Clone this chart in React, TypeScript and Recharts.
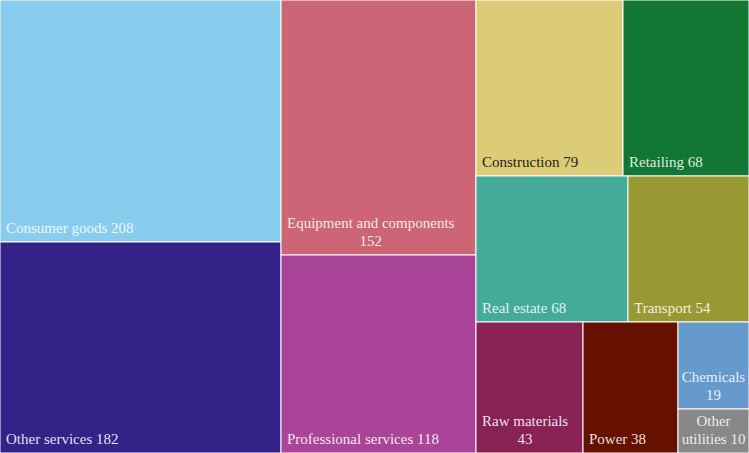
import { Treemap } from 'recharts';

const sectors = [
  'Consumer goods',
  'Other services',
  'Equipment and components',
  'Professional services',
  'Construction',
  'Retailing',
  'Real estate',
  'Transport',
  'Raw materials',
  'Power',
  'Chemicals',
  'Other utilities',
];
const counts = [208, 182, 152, 118, 79, 68, 68, 54, 43, 38, 19, 10];
const colors = [
  '#88CCEE', '#332288', '#CC6677', '#AA4499', '#DDCC77', '#117733',
  '#44AA99', '#999933', '#882255', '#661100', '#6699CC', '#888888',
];
const darkText = ['Construction'];

const data = sectors.map((name, i) => ({ name, size: counts[i], fill: colors[i] }));

const FONT_SIZE = 15;
const FAMILY = '"Liberation Serif", "DejaVu Serif", serif';
const LINE_H = 18;
const PAD = 6;

let ctx: CanvasRenderingContext2D | null = null;
function measure(s: string) {
  if (!ctx) ctx = document.createElement('canvas').getContext('2d');
  if (!ctx) return s.length * 7;
  ctx.font = `${FONT_SIZE}px ${FAMILY}`;
  return ctx.measureText(s).width;
}

function wrap(text: string, maxW: number) {
  if (measure(text) <= maxW) return [text];
  const words = text.split(' ');
  const lines: string[] = [];
  let cur = '';
  for (const w of words) {
    const next = cur ? cur + ' ' + w : w;
    if (cur && measure(next) > maxW) {
      lines.push(cur);
      cur = w;
    } else cur = next;
  }
  if (cur) lines.push(cur);
  return lines;
}

function Cell(props: any) {
  const { x, y, width, height, depth, name, size, fill } = props;
  if (depth !== 1) return null;
  const label = `${name} ${size}`;
  const lines = wrap(label, width - 4);
  const blockW = Math.max(...lines.map(measure));
  const left = Math.min(x + PAD, x + (width - blockW) / 2);
  const cx = left + blockW / 2;
  const textColor = darkText.includes(name) ? '#222222' : 'rgba(255,255,255,0.88)';
  const baseY = y + height - 9;
  return (
    <g>
      <rect x={x} y={y} width={width} height={height} fill={fill} stroke="#ffffff" strokeWidth={1} />
      {lines.map((ln, i) => (
        <text
          key={i}
          x={lines.length > 1 ? cx : left}
          y={baseY - (lines.length - 1 - i) * LINE_H}
          textAnchor={lines.length > 1 ? 'middle' : 'start'}
          fill={textColor}
          fontFamily={FAMILY}
          fontSize={FONT_SIZE}
        >
          {ln}
        </text>
      ))}
    </g>
  );
}

export default function App() {
  return (
    <div style={{ position: 'absolute', left: 0, top: 0, width: 749, height: 453, background: '#ffffff' }}>
      <Treemap
        width={749}
        height={453}
        data={data}
        dataKey="size"
        nameKey="name"
        aspectRatio={1}
        isAnimationActive={false}
        content={<Cell />}
      />
    </div>
  );
}
